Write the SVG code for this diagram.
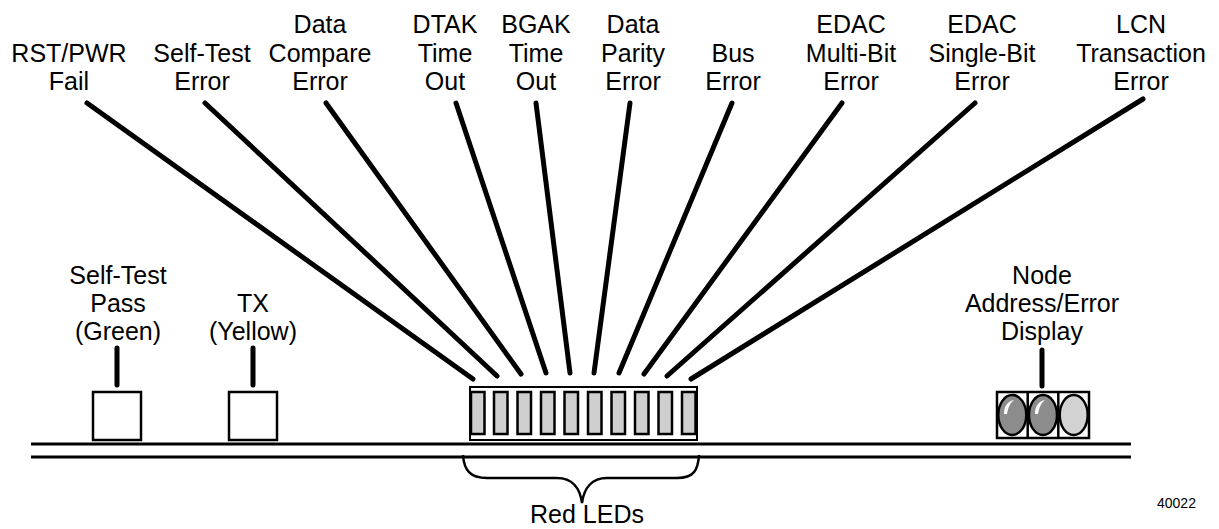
<svg xmlns="http://www.w3.org/2000/svg" width="1219" height="529" viewBox="0 0 1219 529">
<style>
.t{font-family:"Liberation Sans",Arial,sans-serif;font-size:25px;fill:#000;text-anchor:middle}
.s{font-family:"Liberation Sans",Arial,sans-serif;font-size:14px;fill:#000}
.c{stroke:#000;stroke-width:5;stroke-linecap:round;fill:none}
.seg{fill:#cfcfcf;stroke:#000;stroke-width:2.5}
.box{fill:#fff;stroke:#000;stroke-width:2.5}
.rail{stroke:#000;stroke-width:3}
</style>
<rect width="1219" height="529" fill="#fff"/>
<g id="labels">
<text class="t" x="69"><tspan x="69" y="62">RST/PWR</tspan><tspan x="69" y="90">Fail</tspan></text>
<text class="t"><tspan x="202" y="62">Self-Test</tspan><tspan x="202" y="90">Error</tspan></text>
<text class="t"><tspan x="320" y="33">Data</tspan><tspan x="320" y="62">Compare</tspan><tspan x="320" y="90">Error</tspan></text>
<text class="t"><tspan x="445" y="33">DTAK</tspan><tspan x="445" y="62">Time</tspan><tspan x="445" y="90">Out</tspan></text>
<text class="t"><tspan x="536" y="33">BGAK</tspan><tspan x="536" y="62">Time</tspan><tspan x="536" y="90">Out</tspan></text>
<text class="t"><tspan x="633" y="33">Data</tspan><tspan x="633" y="62">Parity</tspan><tspan x="633" y="90">Error</tspan></text>
<text class="t"><tspan x="733" y="62">Bus</tspan><tspan x="733" y="90">Error</tspan></text>
<text class="t"><tspan x="851" y="33">EDAC</tspan><tspan x="851" y="62">Multi-Bit</tspan><tspan x="851" y="90">Error</tspan></text>
<text class="t"><tspan x="982" y="33">EDAC</tspan><tspan x="982" y="62">Single-Bit</tspan><tspan x="982" y="90">Error</tspan></text>
<text class="t"><tspan x="1141" y="33">LCN</tspan><tspan x="1141" y="62">Transaction</tspan><tspan x="1141" y="90">Error</tspan></text>
</g>
<g id="connectors">
<line class="c" x1="87" y1="103" x2="473" y2="379"/>
<line class="c" x1="205" y1="103" x2="497" y2="376"/>
<line class="c" x1="326" y1="103" x2="521" y2="374"/>
<line class="c" x1="456" y1="103" x2="546" y2="373"/>
<line class="c" x1="536" y1="103" x2="570" y2="373"/>
<line class="c" x1="630" y1="103" x2="594" y2="373"/>
<line class="c" x1="732" y1="103" x2="619" y2="373"/>
<line class="c" x1="842" y1="103" x2="644" y2="374"/>
<line class="c" x1="975" y1="103" x2="667" y2="376"/>
<line class="c" x1="1143" y1="99" x2="691" y2="379"/>
<line class="c" x1="117" y1="348" x2="117" y2="385"/>
<line class="c" x1="253" y1="348" x2="253" y2="385"/>
<line class="c" x1="1042" y1="350" x2="1042" y2="386"/>
</g>
<g id="rails">
<line class="rail" x1="31" y1="444" x2="1131" y2="444"/>
<line class="rail" x1="31" y1="457" x2="1131" y2="457"/>
</g>
<g id="selftest-led">
<rect class="box" x="93" y="392" width="48" height="48"/>
<text class="t"><tspan x="118" y="284">Self-Test</tspan><tspan x="118" y="312">Pass</tspan><tspan x="118" y="340">(Green)</tspan></text>
</g>
<g id="tx-led">
<rect class="box" x="229" y="392" width="48" height="48"/>
<text class="t"><tspan x="253" y="312">TX</tspan><tspan x="253" y="340">(Yellow)</tspan></text>
</g>
<g id="red-leds">
<rect x="470" y="387" width="227" height="53" fill="#fff" stroke="#000" stroke-width="2"/>
<rect class="seg" x="471" y="392" width="13.5" height="42"/>
<rect class="seg" x="494" y="392" width="13.5" height="42"/>
<rect class="seg" x="517.5" y="392" width="13.5" height="42"/>
<rect class="seg" x="541" y="392" width="13.5" height="42"/>
<rect class="seg" x="564.5" y="392" width="13.5" height="42"/>
<rect class="seg" x="588" y="392" width="13.5" height="42"/>
<rect class="seg" x="611.5" y="392" width="13.5" height="42"/>
<rect class="seg" x="635" y="392" width="13.5" height="42"/>
<rect class="seg" x="658.5" y="392" width="13.5" height="42"/>
<rect class="seg" x="682" y="392" width="13.5" height="42"/>
<path d="M463,455 C464,470 470,478 487,478 L557,478 C572,478 580,488 582,503 C584,488 592,478 607,478 L677,478 C694,478 698,470 699,455" fill="none" stroke="#000" stroke-width="2.5"/>
<text class="t" x="587" y="523">Red LEDs</text>
</g>
<g id="node-display">
<rect x="997" y="392" width="92" height="46" fill="#fff" stroke="#000" stroke-width="2.5"/>
<line x1="1027.7" y1="392" x2="1027.7" y2="438" stroke="#000" stroke-width="2.5"/>
<line x1="1058.3" y1="392" x2="1058.3" y2="438" stroke="#000" stroke-width="2.5"/>
<ellipse cx="1012.3" cy="415" rx="14" ry="20" fill="#8c8c8c" stroke="#000" stroke-width="2.5"/>
<ellipse cx="1043" cy="415" rx="14" ry="20" fill="#8c8c8c" stroke="#000" stroke-width="2.5"/>
<ellipse cx="1073.7" cy="415" rx="14" ry="20" fill="#d2d2d2" stroke="#000" stroke-width="2.5"/>
<path d="M1004,414 C1004,406 1008,401 1014,400 C1010,403 1008,408 1007,414 Z" fill="#fff"/>
<path d="M1035,414 C1035,406 1039,401 1045,400 C1041,403 1039,408 1038,414 Z" fill="#fff"/>
<text class="t"><tspan x="1042" y="284">Node</tspan><tspan x="1042" y="312">Address/Error</tspan><tspan x="1042" y="340">Display</tspan></text>
</g>
<text class="s" x="1157" y="508">40022</text>
</svg>
